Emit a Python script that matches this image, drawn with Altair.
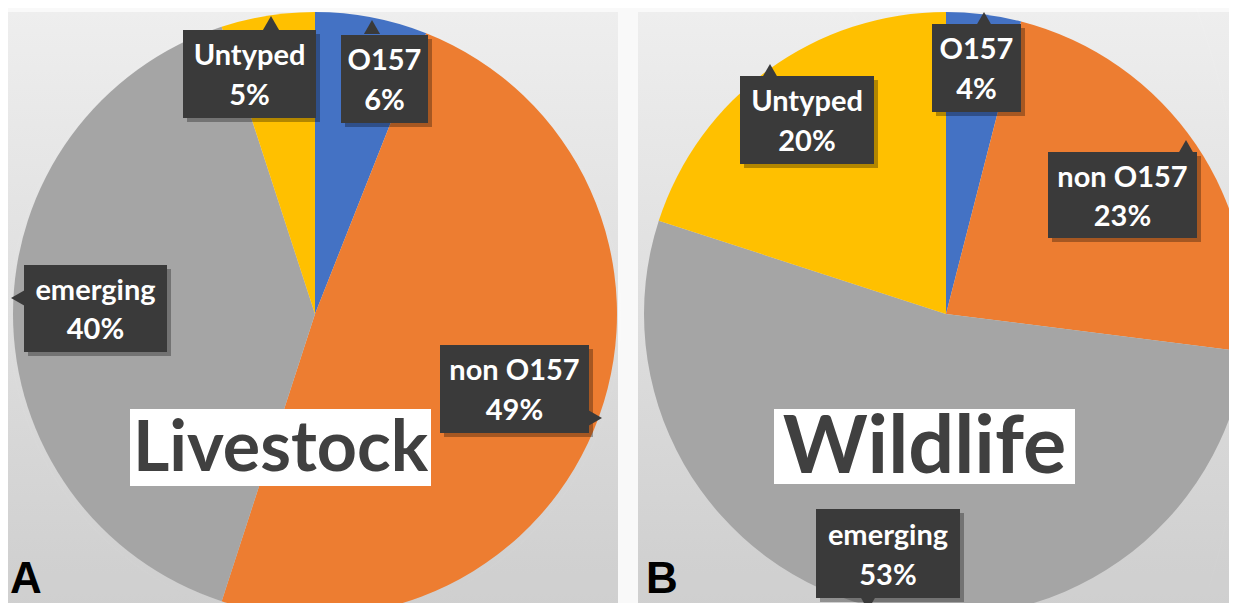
import altair as alt
import pandas as pd

# ---------------- data ----------------
categories = ["O157", "non O157", "emerging", "Untyped"]
livestock = [6, 49, 40, 5]
wildlife = [4, 23, 53, 20]
colors = ["#4472C4", "#ED7D31", "#A5A5A5", "#FFC000"]
group_names = ["Livestock", "Wildlife"]
panel_letters = ["A", "B"]

# ---------------- layout (image pixel coordinates) ----------------
OFF = 8
W, H = 1221, 595
centers = {"Livestock": (315, 314), "Wildlife": (946, 314)}
R = 302
panels = [(8, 618, 12, 611), (638, 1237, 12, 611)]
# callout boxes: x0, y0, x1, y1
boxes = {
    ("Livestock", "Untyped"): (183, 30, 316, 118),
    ("Livestock", "O157"): (341, 35, 428, 123),
    ("Livestock", "emerging"): (24, 265, 167, 352),
    ("Livestock", "non O157"): (440, 345, 589, 433),
    ("Wildlife", "O157"): (932, 24, 1021, 112),
    ("Wildlife", "Untyped"): (740, 76, 874, 164),
    ("Wildlife", "non O157"): (1048, 152, 1197, 238),
    ("Wildlife", "emerging"): (816, 509, 960, 598),
}
pointers = {
    ("Livestock", "Untyped"): (271, 23, "triangle-up"),
    ("Livestock", "O157"): (372, 27, "triangle-up"),
    ("Livestock", "emerging"): (18, 298, "triangle-left"),
    ("Livestock", "non O157"): (595, 418, "triangle-right"),
    ("Wildlife", "O157"): (984, 19, "triangle-up"),
    ("Wildlife", "Untyped"): (770, 71, "triangle-up"),
    ("Wildlife", "non O157"): (1186, 147, "triangle-up"),
    ("Wildlife", "emerging"): (868, 603, "triangle-down"),
}
title_boxes = {"Livestock": (130, 409, 431, 486, 70), "Wildlife": (774, 409, 1075, 484, 81)}
letters_pos = [(26, 602), (662, 602)]

xs = alt.Scale(domain=[OFF, OFF + W], range=[0, W], nice=False, zero=False)
ys = alt.Scale(domain=[OFF, OFF + H], range=[0, H], nice=False, zero=False)

def X(f):
    return alt.X(f, type="quantitative", scale=xs, axis=None)

def Y(f):
    return alt.Y(f, type="quantitative", scale=ys, axis=None)

# background panels
panel_df = pd.DataFrame(panels, columns=["x0", "x1", "y0", "y1"])
bg = alt.Chart(panel_df).mark_rect(
    color={"gradient": "linear", "x1": 0, "y1": 0, "x2": 0, "y2": 1,
           "stops": [{"offset": 0, "color": "#f4f4f4"},
                     {"offset": 0.5, "color": "#e4e4e4"},
                     {"offset": 1, "color": "#d4d4d4"}]}
).encode(x=X("x0"), x2="x1", y=Y("y0"), y2="y1")

# soft halo around the pies
halo_rows = []
for g in group_names:
    cx, cy = centers[g]
    for k in [4, 9, 15, 22]:
        halo_rows.append({"cx": cx, "cy": cy + 3, "r": R + k})
halo = alt.Chart(pd.DataFrame(halo_rows)).mark_arc(
    theta=0, theta2=6.2832, color="#000000", opacity=0.025
).encode(x=X("cx"), y=Y("cy"), radius=alt.Radius("r:Q", scale=None))

layers = [bg, halo]

# pies
for g, vals in zip(group_names, [livestock, wildlife]):
    df = pd.DataFrame({"category": categories, "value": vals, "idx": range(len(vals))})
    cx, cy = centers[g]
    pie = alt.Chart(df).mark_arc(radius=R).encode(
        theta=alt.Theta("value:Q", stack=True),
        order=alt.Order("idx:Q", sort="ascending"),
        color=alt.Color("category:N", scale=alt.Scale(domain=categories, range=colors), legend=None),
        x=alt.value(cx - OFF),
        y=alt.value(cy - OFF),
    )
    layers.append(pie)

# title boxes
tb_rows = []
for g in group_names:
    x0, y0, x1, y1, fs = title_boxes[g]
    tb_rows.append({"name": g, "x0": x0, "y0": y0, "x1": x1, "y1": y1,
                    "xc": (x0 + x1) / 2, "yc": (y0 + y1) / 2 + 2, "fs": fs})
tb_df = pd.DataFrame(tb_rows)
layers.append(alt.Chart(tb_df).mark_rect(color="white").encode(
    x=X("x0"), x2="x1", y=Y("y0"), y2="y1"))
for _, r in tb_df.iterrows():
    layers.append(alt.Chart(pd.DataFrame([r])).mark_text(
        font="Lato", fontWeight="bold", fontSize=int(r["fs"]), color="#404040",
        align="center", baseline="middle").encode(x=X("xc"), y=Y("yc"), text="name:N"))

# callouts
c_rows, p_rows = [], []
for g, vals in zip(group_names, [livestock, wildlife]):
    for c, v in zip(categories, vals):
        x0, y0, x1, y1 = boxes[(g, c)]
        h = y1 - y0
        c_rows.append({"x0": x0, "y0": y0, "x1": x1, "y1": y1,
                       "sx0": x0 + 4, "sy0": y0 + 4, "sx1": x1 + 4, "sy1": y1 + 4,
                       "xc": (x0 + x1) / 2, "l1y": y0 + 0.30 * h, "l2y": y0 + 0.75 * h,
                       "l1": c, "l2": f"{v}%"})
        px, py, shp = pointers[(g, c)]
        p_rows.append({"px": px, "py": py, "shape": shp})
c_df = pd.DataFrame(c_rows)
p_df = pd.DataFrame(p_rows)

layers.append(alt.Chart(c_df).mark_rect(color="#000000", opacity=0.3).encode(
    x=X("sx0"), x2="sx1", y=Y("sy0"), y2="sy1"))
layers.append(alt.Chart(p_df).mark_point(filled=True, color="#3a3a3a", opacity=1, size=260).encode(
    x=X("px"), y=Y("py"), shape=alt.Shape("shape:N", scale=None)))
layers.append(alt.Chart(c_df).mark_rect(color="#3a3a3a").encode(
    x=X("x0"), x2="x1", y=Y("y0"), y2="y1"))
layers.append(alt.Chart(c_df).mark_text(
    font="Lato", fontWeight="bold", fontSize=29, color="white", align="center", baseline="middle"
).encode(x=X("xc"), y=Y("l1y"), text="l1:N"))
layers.append(alt.Chart(c_df).mark_text(
    font="Lato", fontWeight="bold", fontSize=29, color="white", align="center", baseline="middle"
).encode(x=X("xc"), y=Y("l2y"), text="l2:N"))

# panel letters
let_df = pd.DataFrame({"t": panel_letters, "x": [p[0] for p in letters_pos], "y": [p[1] for p in letters_pos]})
layers.append(alt.Chart(let_df).mark_text(
    font="Liberation Sans", fontWeight="bold", fontSize=44, color="black",
    align="center", baseline="bottom").encode(x=X("x"), y=Y("y"), text="t:N"))

chart = alt.layer(*layers).properties(
    width=W, height=H, padding=0,
    autosize=alt.AutoSizeParams(type="none"),
).configure_view(stroke=None)

chart.save("out.html", embed_options={"renderer": "svg", "actions": False})
